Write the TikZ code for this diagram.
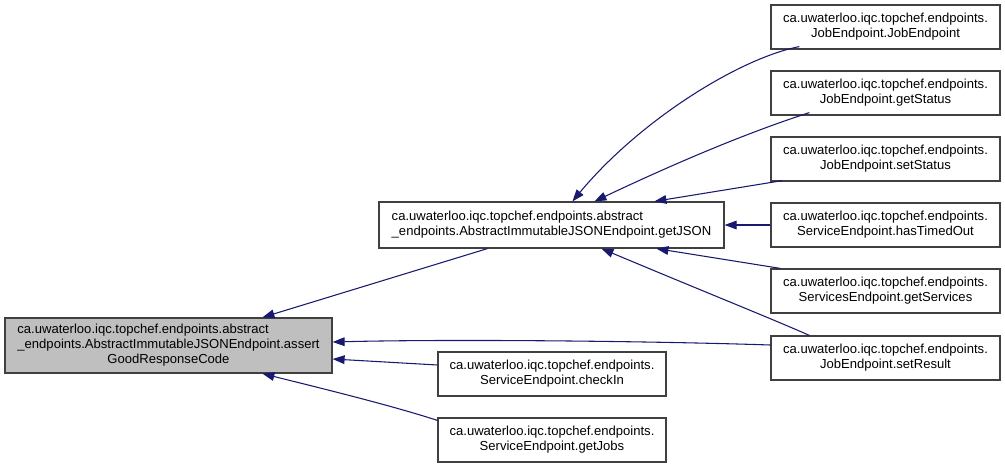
\documentclass[tikz,border=0pt]{standalone}
\usepackage{fontspec}
\setmainfont{Liberation Sans}
\usetikzlibrary{arrows.meta,calc}
\definecolor{edgec}{HTML}{191970}
\definecolor{boxc}{HTML}{404040}
\definecolor{fillA}{HTML}{BFBFBF}
\begin{document}
\begin{tikzpicture}[x=0.75pt,y=-0.75pt,
  box/.style={draw=boxc,line width=0.9pt,fill=white,inner sep=0pt,align=center,
    font=\fontsize{9.8}{11.4}\selectfont},
  rbox/.style={box,minimum width=171.75pt,minimum height=33pt},
  edge/.style={draw=edgec,line width=0.8pt,-{Triangle[length=9pt,width=6.5pt]}}]
\useasboundingbox (0,0) rectangle (1005,467);
\node[box,fill=fillA,minimum width=245.25pt,minimum height=41.25pt] (A) at (168.5,345.5)
 {\renewcommand{\arraystretch}{1}\begin{tabular}{@{}l@{}}ca.uwaterloo.iqc.topchef.endpoints.abstract\\
 \_endpoints.AbstractImmutableJSONEndpoint.assert\\
 \multicolumn{1}{@{}c@{}}{GoodResponseCode}\end{tabular}};
\node[box,minimum width=258.75pt,minimum height=34.5pt] (B) at (551.5,225)
 {\begin{tabular}{@{}l@{}}ca.uwaterloo.iqc.topchef.endpoints.abstract\\
 \_endpoints.AbstractImmutableJSONEndpoint.getJSON\end{tabular}};
\node[rbox] (je) at (885.5,27) {ca.uwaterloo.iqc.topchef.endpoints.\\JobEndpoint.JobEndpoint};
\node[rbox] (gs) at (885.5,93) {ca.uwaterloo.iqc.topchef.endpoints.\\JobEndpoint.getStatus};
\node[rbox] (ss) at (885.5,159) {ca.uwaterloo.iqc.topchef.endpoints.\\JobEndpoint.setStatus};
\node[rbox] (ht) at (885.5,225) {ca.uwaterloo.iqc.topchef.endpoints.\\ServiceEndpoint.hasTimedOut};
\node[rbox] (gsv) at (885.5,291) {ca.uwaterloo.iqc.topchef.endpoints.\\ServicesEndpoint.getServices};
\node[rbox] (sr) at (885.5,358) {ca.uwaterloo.iqc.topchef.endpoints.\\JobEndpoint.setResult};
\node[box,minimum width=171pt,minimum height=33pt] (ci) at (552,374) {ca.uwaterloo.iqc.topchef.endpoints.\\ServiceEndpoint.checkIn};
\node[box,minimum width=171pt,minimum height=33pt] (gj) at (552,440) {ca.uwaterloo.iqc.topchef.endpoints.\\ServiceEndpoint.getJobs};
% edges to B
\draw[edge] ($(je.south west)+(29,-3)$) .. controls (740,58) and (640,120) .. ($(B.north west)+(194,0)$);
\draw[edge] ($(gs.south west)+(39,-3)$) .. controls (740,135) and (665,168) .. ($(B.north west)+(216,0)$);
\draw[edge] ($(ss.south west)+(12,-1)$) -- ($(B.north west)+(276,0)$);
\draw[edge] (ht.west) -- (B.east);
\draw[edge] ($(gsv.north west)+(10,0)$) -- ($(B.south west)+(278,0)$);
\draw[edge] ($(sr.north west)+(39,0)$) .. controls (770,318) and (700,290) .. ($(B.south west)+(223,0)$);
% edges to A
\draw[edge] ($(B.south west)+(109,0)$) -- ($(A.north west)+(258,0)$);
\draw[edge] ($(sr.west)+(0,-13)$) .. controls (650,341) and (450,339) .. ($(A.east)+(0,-3.5)$);
\draw[edge] ($(ci.west)+(0,-9)$) -- ($(A.east)+(0,13.5)$);
\draw[edge] ($(gj.north west)+(0,3)$) .. controls (390,405) and (320,388) .. ($(A.south west)+(258,0)$);
\end{tikzpicture}
\end{document}
